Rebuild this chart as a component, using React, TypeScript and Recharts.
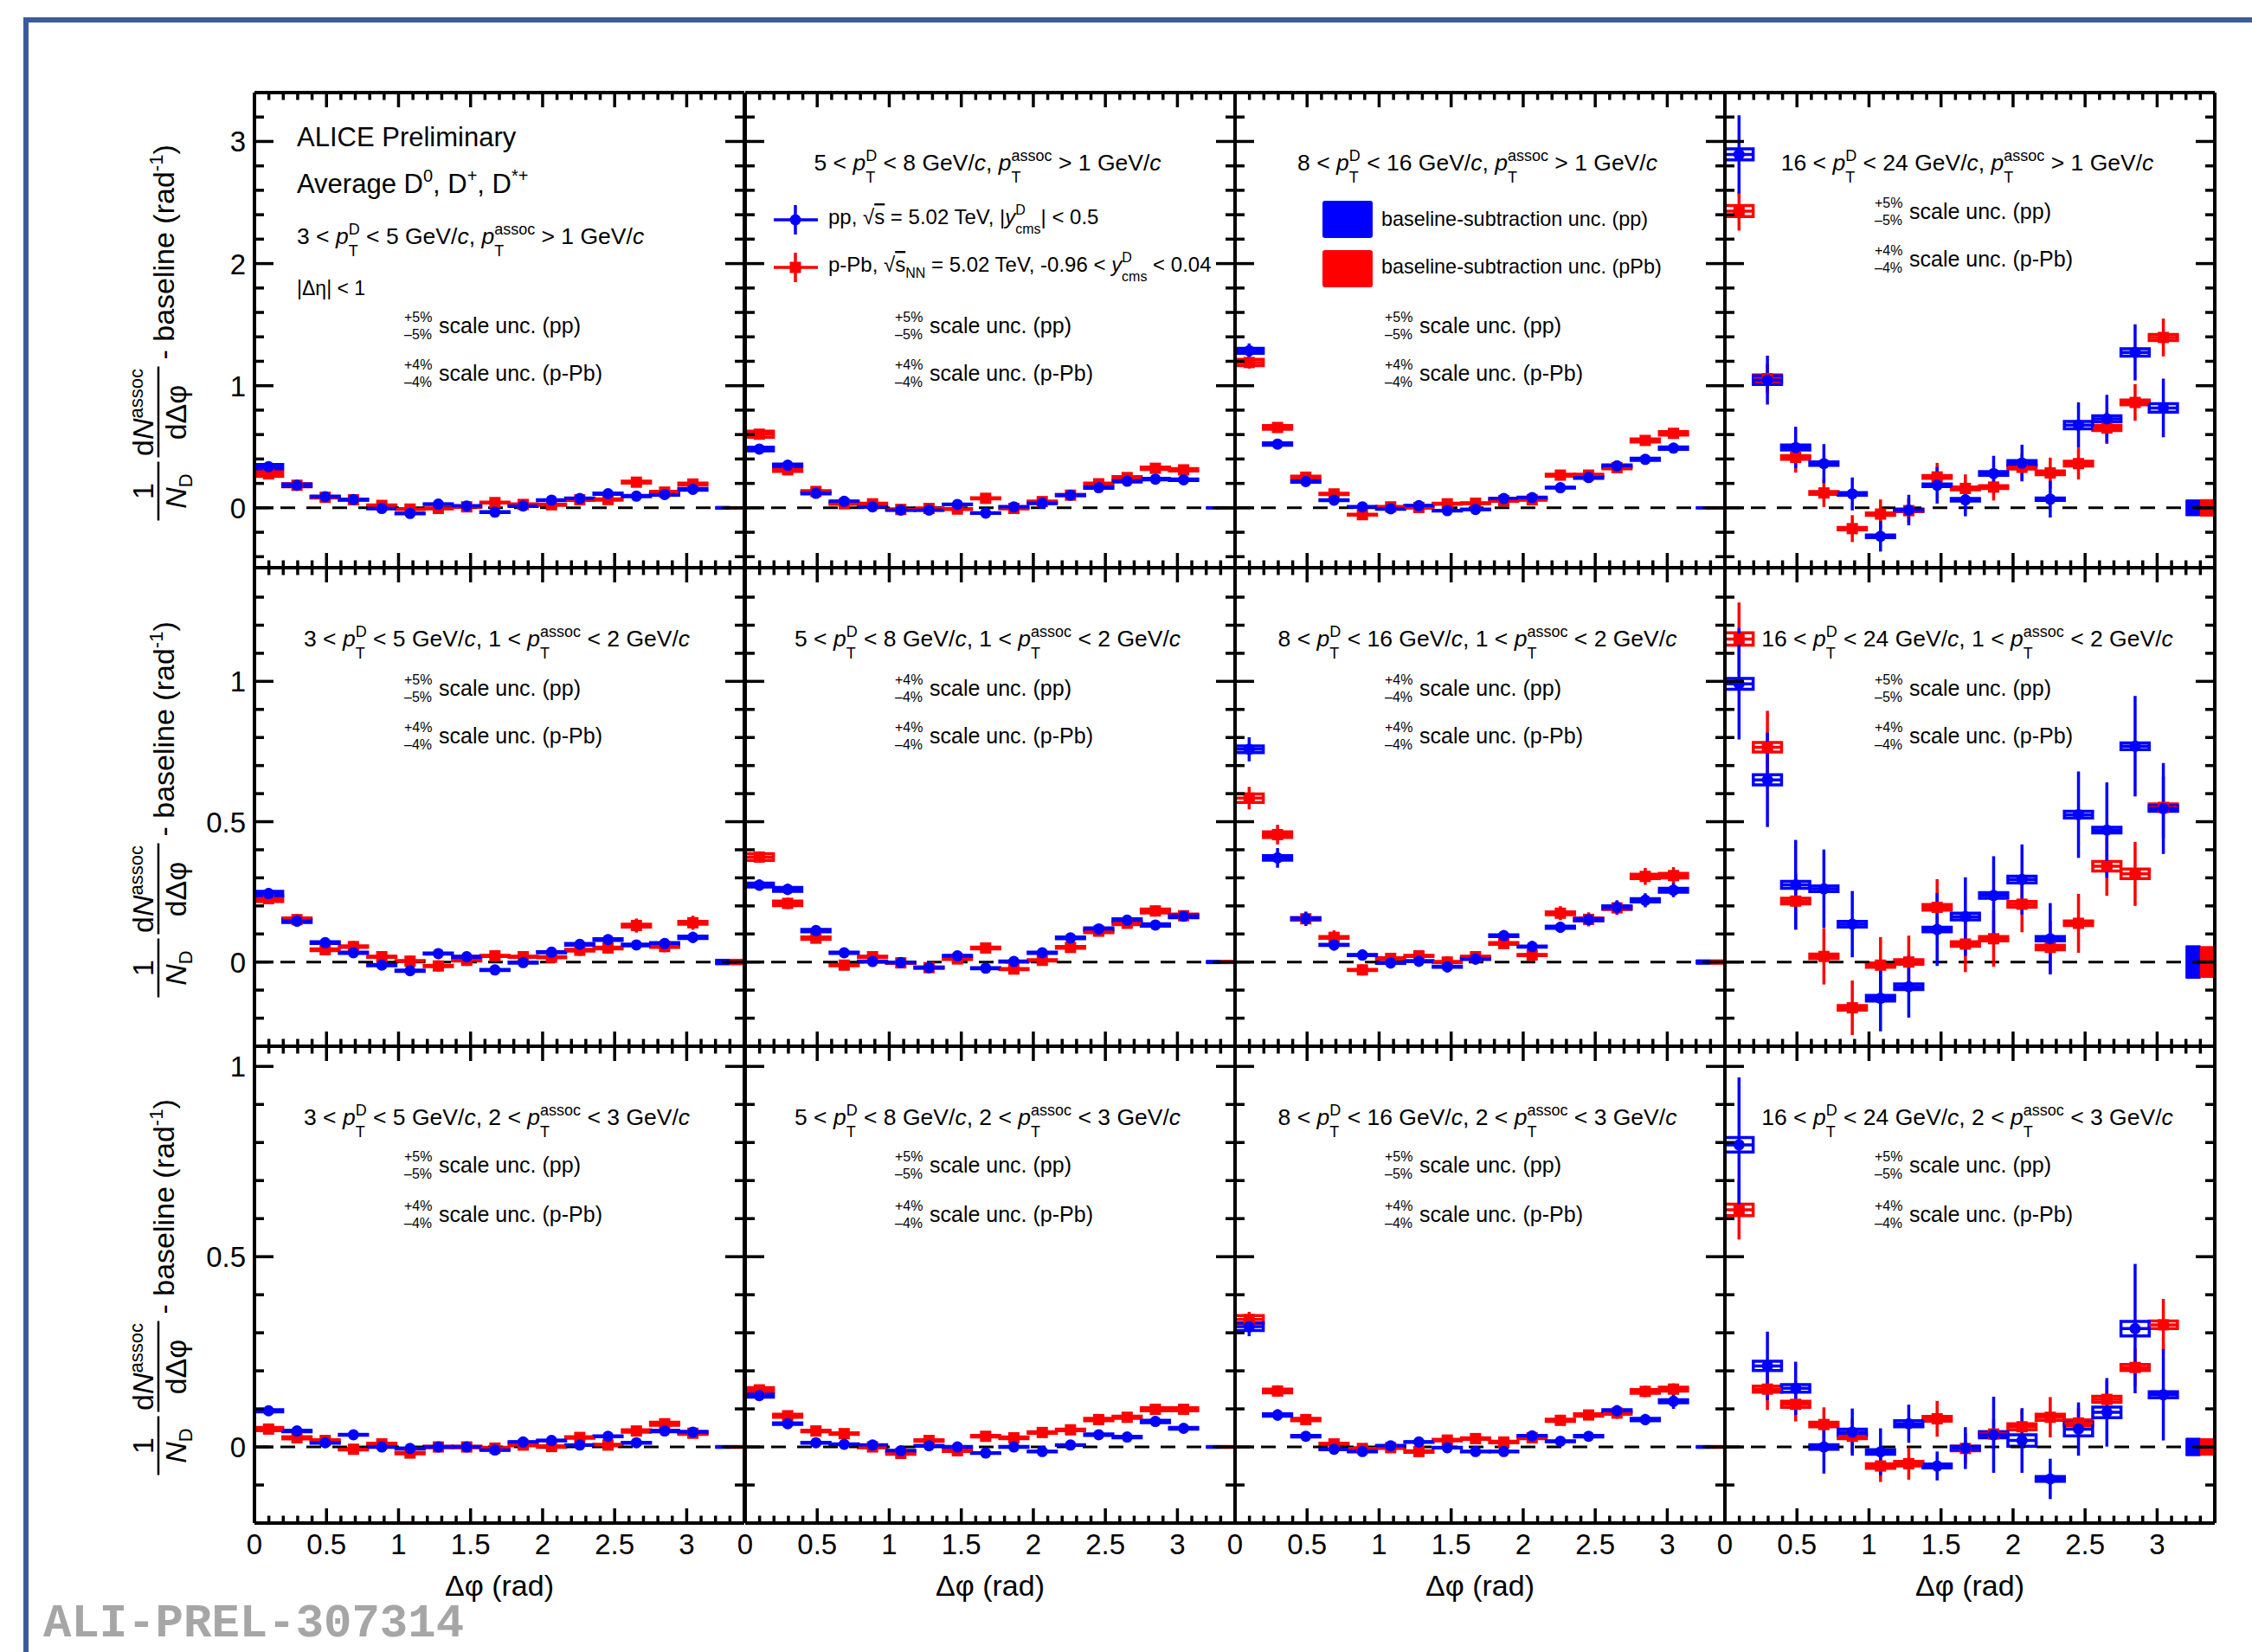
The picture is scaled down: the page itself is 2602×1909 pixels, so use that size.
import React from 'react';
import { ComposedChart, Scatter, XAxis, YAxis, ErrorBar, ReferenceLine, ReferenceArea } from 'recharts';

const FONT = '"Liberation Sans", Arial, Helvetica, sans-serif';
const BLUE = '#0000ff';
const RED = '#ff0000';
const FRAME_BLUE = '#3a5c9e';

// ---------- bins ----------
const BIN_CENTERS = [0.098, 0.295, 0.491, 0.687, 0.884, 1.080, 1.276, 1.473, 1.669, 1.865, 2.062, 2.258, 2.454, 2.651, 2.847, 3.043];
const HALF_BIN = 0.098;
const BASE_X_PP = [3.2, 3.3];
const BASE_X_PB = [3.3, 3.4];

// ---------- row 1 : pT assoc > 1 ----------
const PP_11 = [0.337, 0.185, 0.091, 0.068, -0.005, -0.046, 0.030, 0.015, -0.035, 0.015, 0.063, 0.076, 0.116, 0.096, 0.109, 0.152];
const PP_11_ST = [0.02, 0.015, 0.012, 0.012, 0.012, 0.012, 0.012, 0.012, 0.012, 0.012, 0.012, 0.012, 0.012, 0.012, 0.012, 0.015];
const PP_11_SY = [0.018, 0.01, 0.005, 0.004, 0.003, 0.003, 0.003, 0.003, 0.003, 0.003, 0.003, 0.004, 0.005, 0.005, 0.006, 0.007];
const PB_11 = [0.278, 0.185, 0.086, 0.066, 0.020, -0.010, -0.005, 0.008, 0.043, 0.028, 0.025, 0.066, 0.068, 0.210, 0.129, 0.195];
const PB_11_ST = [0.02, 0.015, 0.012, 0.012, 0.012, 0.012, 0.012, 0.012, 0.012, 0.012, 0.012, 0.012, 0.012, 0.015, 0.012, 0.015];
const PB_11_SY = [0.02, 0.012, 0.006, 0.005, 0.004, 0.004, 0.004, 0.004, 0.004, 0.004, 0.004, 0.005, 0.005, 0.008, 0.006, 0.008];

const PP_12 = [0.481, 0.349, 0.119, 0.053, 0.008, -0.018, -0.018, 0.028, -0.043, 0.008, 0.038, 0.104, 0.165, 0.218, 0.235, 0.230];
const PP_12_ST = [0.025, 0.02, 0.015, 0.012, 0.012, 0.012, 0.012, 0.012, 0.012, 0.012, 0.012, 0.012, 0.015, 0.015, 0.015, 0.015];
const PP_12_SY = [0.015, 0.01, 0.005, 0.003, 0.003, 0.003, 0.003, 0.003, 0.003, 0.003, 0.003, 0.004, 0.005, 0.006, 0.006, 0.006];
const PB_12 = [0.603, 0.311, 0.134, 0.033, 0.033, -0.013, -0.005, -0.010, 0.078, -0.005, 0.051, 0.104, 0.197, 0.248, 0.324, 0.311];
const PB_12_ST = [0.025, 0.02, 0.015, 0.015, 0.015, 0.015, 0.015, 0.015, 0.015, 0.015, 0.015, 0.015, 0.015, 0.015, 0.02, 0.02];
const PB_12_SY = [0.025, 0.012, 0.006, 0.004, 0.004, 0.004, 0.004, 0.004, 0.004, 0.004, 0.004, 0.005, 0.006, 0.008, 0.01, 0.01];

const PP_13 = [1.286, 0.522, 0.215, 0.063, 0.008, -0.008, 0.018, -0.023, -0.013, 0.076, 0.084, 0.165, 0.248, 0.344, 0.397, 0.489];
const PP_13_ST = [0.06, 0.03, 0.02, 0.015, 0.015, 0.015, 0.015, 0.015, 0.015, 0.015, 0.015, 0.015, 0.015, 0.02, 0.02, 0.025];
const PP_13_SY = [0.02, 0.01, 0.005, 0.003, 0.003, 0.003, 0.003, 0.003, 0.003, 0.003, 0.003, 0.004, 0.006, 0.008, 0.009, 0.01];
const PB_13 = [1.190, 0.658, 0.251, 0.114, -0.056, 0.008, 0.003, 0.033, 0.038, 0.058, 0.066, 0.268, 0.268, 0.329, 0.552, 0.610];
const PB_13_ST = [0.05, 0.03, 0.02, 0.02, 0.02, 0.015, 0.015, 0.015, 0.015, 0.015, 0.015, 0.02, 0.02, 0.02, 0.025, 0.025];
const PB_13_SY = [0.025, 0.015, 0.008, 0.005, 0.004, 0.004, 0.004, 0.004, 0.004, 0.004, 0.004, 0.008, 0.008, 0.01, 0.012, 0.014];

const PP_14 = [2.894, 1.046, 0.494, 0.362, 0.114, -0.233, -0.018, 0.185, 0.066, 0.281, 0.367, 0.071, 0.678, 0.729, 1.273, 0.818];
const PP_14_ST = [0.32, 0.2, 0.17, 0.16, 0.135, 0.125, 0.125, 0.15, 0.135, 0.145, 0.15, 0.15, 0.186, 0.196, 0.23, 0.24];
const PP_14_SY = [0.045, 0.035, 0.02, 0.015, 0.01, 0.01, 0.008, 0.01, 0.01, 0.015, 0.02, 0.01, 0.03, 0.025, 0.03, 0.034];
const PB_14 = [2.43, 1.058, 0.413, 0.122, -0.17, -0.051, -0.023, 0.253, 0.159, 0.17, 0.332, 0.286, 0.362, 0.653, 0.863, 1.395];
const PB_14_ST = [0.16, 0.12, 0.125, 0.115, 0.11, 0.12, 0.1, 0.115, 0.115, 0.11, 0.11, 0.125, 0.13, 0.13, 0.15, 0.155];
const PB_14_SY = [0.045, 0.03, 0.015, 0.012, 0.01, 0.01, 0.008, 0.012, 0.012, 0.012, 0.015, 0.015, 0.02, 0.02, 0.02, 0.025];

// ---------- row 2 : 1 < pT assoc < 2 ----------
const PP_21 = [0.244, 0.146, 0.069, 0.033, -0.011, -0.031, 0.030, 0.019, -0.028, -0.002, 0.035, 0.063, 0.080, 0.061, 0.066, 0.088];
const PP_21_ST = [0.02, 0.02, 0.018, 0.015, 0.015, 0.015, 0.015, 0.015, 0.015, 0.015, 0.015, 0.015, 0.015, 0.015, 0.018, 0.02];
const PP_21_SY = [0.008, 0.005, 0.003, 0.002, 0.002, 0.002, 0.002, 0.002, 0.002, 0.002, 0.002, 0.003, 0.003, 0.003, 0.003, 0.004];
const PB_21 = [0.226, 0.151, 0.044, 0.055, 0.019, 0.003, -0.014, 0.006, 0.022, 0.019, 0.017, 0.042, 0.050, 0.130, 0.055, 0.140];
const PB_21_ST = [0.02, 0.02, 0.02, 0.02, 0.02, 0.02, 0.02, 0.02, 0.02, 0.02, 0.02, 0.02, 0.02, 0.025, 0.02, 0.025];
const PB_21_SY = [0.01, 0.006, 0.003, 0.003, 0.002, 0.002, 0.002, 0.002, 0.002, 0.002, 0.002, 0.003, 0.003, 0.005, 0.003, 0.005];

const PP_22 = [0.274, 0.259, 0.112, 0.033, 0.002, -0.002, -0.020, 0.022, -0.022, 0.002, 0.033, 0.086, 0.118, 0.149, 0.132, 0.163];
const PP_22_ST = [0.02, 0.02, 0.015, 0.012, 0.012, 0.012, 0.012, 0.012, 0.012, 0.012, 0.012, 0.012, 0.015, 0.015, 0.015, 0.015];
const PP_22_SY = [0.007, 0.007, 0.004, 0.002, 0.002, 0.002, 0.002, 0.002, 0.002, 0.002, 0.002, 0.003, 0.004, 0.005, 0.004, 0.005];
const PB_22 = [0.374, 0.209, 0.085, -0.011, 0.019, -0.003, -0.020, 0.011, 0.050, -0.025, 0.006, 0.052, 0.110, 0.138, 0.182, 0.165];
const PB_22_ST = [0.02, 0.02, 0.015, 0.015, 0.015, 0.015, 0.015, 0.015, 0.02, 0.015, 0.015, 0.015, 0.015, 0.015, 0.02, 0.015];
const PB_22_SY = [0.012, 0.008, 0.004, 0.002, 0.002, 0.002, 0.002, 0.002, 0.003, 0.002, 0.002, 0.003, 0.005, 0.005, 0.007, 0.006];

const PP_23 = [0.758, 0.371, 0.154, 0.061, 0.025, -0.003, 0.003, -0.017, 0.011, 0.094, 0.055, 0.124, 0.151, 0.195, 0.220, 0.256];
const PP_23_ST = [0.043, 0.035, 0.025, 0.02, 0.02, 0.02, 0.02, 0.02, 0.02, 0.02, 0.02, 0.02, 0.02, 0.025, 0.025, 0.025];
const PP_23_SY = [0.012, 0.008, 0.004, 0.002, 0.002, 0.002, 0.002, 0.002, 0.002, 0.003, 0.002, 0.004, 0.004, 0.005, 0.006, 0.007];
const PB_23 = [0.584, 0.454, 0.154, 0.088, -0.028, 0.013, 0.022, 0.000, 0.019, 0.066, 0.025, 0.174, 0.152, 0.193, 0.305, 0.308];
const PB_23_ST = [0.04, 0.035, 0.025, 0.025, 0.02, 0.02, 0.02, 0.02, 0.02, 0.02, 0.02, 0.025, 0.025, 0.025, 0.03, 0.03];
const PB_23_SY = [0.015, 0.01, 0.004, 0.003, 0.002, 0.002, 0.002, 0.002, 0.002, 0.003, 0.002, 0.005, 0.005, 0.006, 0.008, 0.008];

const PP_24 = [0.991, 0.649, 0.275, 0.261, 0.135, -0.129, -0.088, 0.116, 0.162, 0.237, 0.294, 0.083, 0.525, 0.470, 0.769, 0.547];
const PP_24_ST = [0.198, 0.168, 0.16, 0.14, 0.118, 0.118, 0.11, 0.13, 0.14, 0.14, 0.125, 0.127, 0.154, 0.17, 0.179, 0.162];
const PP_24_SY = [0.019, 0.018, 0.012, 0.01, 0.01, 0.01, 0.01, 0.008, 0.012, 0.01, 0.012, 0.008, 0.012, 0.01, 0.012, 0.01];
const PB_24 = [1.151, 0.765, 0.217, 0.020, -0.163, -0.011, 0.000, 0.195, 0.064, 0.083, 0.206, 0.052, 0.138, 0.341, 0.314, 0.551];
const PB_24_ST = [0.13, 0.13, 0.1, 0.1, 0.097, 0.1, 0.094, 0.1, 0.1, 0.1, 0.1, 0.094, 0.105, 0.105, 0.114, 0.11];
const PB_24_SY = [0.022, 0.017, 0.01, 0.008, 0.008, 0.008, 0.008, 0.01, 0.008, 0.008, 0.01, 0.008, 0.008, 0.017, 0.017, 0.012];

// ---------- row 3 : 2 < pT assoc < 3 ----------
const PP_31 = [0.095, 0.042, 0.011, 0.032, 0.000, -0.004, 0.000, 0.000, -0.008, 0.013, 0.017, 0.005, 0.028, 0.011, 0.042, 0.039];
const PP_31_ST = [0.01, 0.01, 0.008, 0.008, 0.008, 0.008, 0.008, 0.008, 0.008, 0.008, 0.008, 0.008, 0.008, 0.008, 0.01, 0.01];
const PP_31_SY = [0.003, 0.002, 0.001, 0.001, 0.001, 0.001, 0.001, 0.001, 0.001, 0.001, 0.001, 0.001, 0.001, 0.001, 0.002, 0.002];
const PB_31 = [0.047, 0.024, 0.017, -0.006, 0.008, -0.016, 0.000, 0.000, -0.003, 0.005, 0.001, 0.025, 0.005, 0.042, 0.061, 0.036];
const PB_31_ST = [0.01, 0.01, 0.01, 0.01, 0.01, 0.01, 0.01, 0.01, 0.01, 0.01, 0.01, 0.01, 0.01, 0.01, 0.012, 0.01];
const PB_31_SY = [0.004, 0.003, 0.002, 0.002, 0.002, 0.002, 0.002, 0.002, 0.002, 0.002, 0.002, 0.002, 0.002, 0.003, 0.004, 0.003];

const PP_32 = [0.135, 0.061, 0.011, 0.007, 0.005, -0.010, 0.003, 0.000, -0.016, 0.000, -0.012, 0.005, 0.032, 0.026, 0.067, 0.049];
const PP_32_ST = [0.012, 0.01, 0.008, 0.008, 0.008, 0.008, 0.008, 0.008, 0.008, 0.008, 0.008, 0.008, 0.01, 0.01, 0.01, 0.01];
const PP_32_SY = [0.004, 0.002, 0.001, 0.001, 0.001, 0.001, 0.001, 0.001, 0.001, 0.001, 0.001, 0.001, 0.002, 0.002, 0.003, 0.002];
const PB_32 = [0.150, 0.082, 0.042, 0.035, 0.000, -0.017, 0.017, -0.010, 0.028, 0.024, 0.038, 0.045, 0.072, 0.078, 0.099, 0.099];
const PB_32_ST = [0.012, 0.01, 0.01, 0.01, 0.01, 0.01, 0.01, 0.01, 0.01, 0.01, 0.01, 0.01, 0.01, 0.01, 0.01, 0.01];
const PB_32_SY = [0.006, 0.004, 0.002, 0.002, 0.002, 0.002, 0.002, 0.002, 0.002, 0.002, 0.002, 0.002, 0.003, 0.003, 0.004, 0.004];

const PP_33 = [0.316, 0.084, 0.028, -0.006, -0.012, 0.003, 0.013, -0.002, -0.012, -0.012, 0.029, 0.015, 0.028, 0.095, 0.072, 0.120];
const PP_33_ST = [0.025, 0.015, 0.012, 0.01, 0.01, 0.01, 0.01, 0.01, 0.01, 0.01, 0.01, 0.01, 0.012, 0.015, 0.015, 0.02];
const PP_33_SY = [0.01, 0.003, 0.002, 0.001, 0.001, 0.001, 0.001, 0.001, 0.001, 0.001, 0.001, 0.001, 0.002, 0.003, 0.003, 0.004];
const PB_33 = [0.335, 0.147, 0.072, 0.008, -0.004, -0.002, -0.012, 0.018, 0.022, 0.013, 0.024, 0.070, 0.084, 0.089, 0.146, 0.152];
const PB_33_ST = [0.02, 0.015, 0.012, 0.01, 0.01, 0.01, 0.01, 0.01, 0.01, 0.01, 0.01, 0.012, 0.012, 0.015, 0.015, 0.015];
const PB_33_SY = [0.01, 0.005, 0.003, 0.002, 0.002, 0.002, 0.002, 0.002, 0.002, 0.002, 0.002, 0.003, 0.003, 0.003, 0.005, 0.005];

const PP_34 = [0.794, 0.213, 0.154, 0.000, 0.039, -0.013, 0.061, -0.050, -0.003, 0.032, 0.017, -0.084, 0.047, 0.091, 0.311, 0.137];
const PP_34_ST = [0.177, 0.09, 0.07, 0.07, 0.062, 0.062, 0.05, 0.038, 0.055, 0.1, 0.085, 0.053, 0.07, 0.09, 0.17, 0.12];
const PP_34_SY = [0.019, 0.012, 0.01, 0.006, 0.008, 0.006, 0.008, 0.005, 0.005, 0.008, 0.015, 0.006, 0.018, 0.014, 0.019, 0.008];
const PB_34 = [0.623, 0.152, 0.112, 0.059, 0.028, -0.050, -0.044, 0.074, -0.004, 0.034, 0.053, 0.078, 0.063, 0.125, 0.209, 0.321];
const PB_34_ST = [0.078, 0.055, 0.045, 0.045, 0.045, 0.042, 0.042, 0.047, 0.04, 0.04, 0.045, 0.053, 0.04, 0.05, 0.05, 0.068];
const PB_34_SY = [0.015, 0.008, 0.008, 0.006, 0.006, 0.006, 0.006, 0.006, 0.006, 0.006, 0.008, 0.008, 0.008, 0.008, 0.008, 0.01];

// baseline-subtraction uncertainty (half height), per row per column
const BASE_PP = [[0.012, 0.01, 0.01, 0.065], [0.01, 0.006, 0.008, 0.058], [0.004, 0.004, 0.004, 0.023]];
const BASE_PB = [[0.01, 0.01, 0.01, 0.068], [0.01, 0.006, 0.008, 0.055], [0.004, 0.004, 0.004, 0.022]];

// scale uncertainties (%)
const PP_PCT = [[5, 5, 5, 5], [5, 4, 4, 5], [5, 5, 5, 5]];
const PB_PCT = [[4, 4, 4, 4], [4, 4, 4, 4], [4, 4, 4, 4]];

// titles
const D_LO = ['3', '5', '8', '16'];
const D_HI = ['5', '8', '16', '24'];
const ASSOC_LO = ['', '1', '2'];
const ASSOC_HI = ['1', '2', '3'];

// ---------- axes ----------
const X_DOMAIN = [0, 3.4];
const X_TICKS = [0, 0.1, 0.2, 0.3, 0.4, 0.5, 0.6, 0.7, 0.8, 0.9, 1, 1.1, 1.2, 1.3, 1.4, 1.5, 1.6, 1.7, 1.8, 1.9, 2, 2.1, 2.2, 2.3, 2.4, 2.5, 2.6, 2.7, 2.8, 2.9, 3, 3.1, 3.2, 3.3];
const X_MAJOR = [0, 0.5, 1, 1.5, 2, 2.5, 3];
const X_LABELS = ['0', '0.5', '1', '1.5', '2', '2.5', '3'];

const Y_DOMAINS = [[-0.49, 3.4], [-0.3, 1.405], [-0.2, 1.053]];
const Y_TICKS = [
  [-0.4, -0.2, 0, 0.2, 0.4, 0.6, 0.8, 1, 1.2, 1.4, 1.6, 1.8, 2, 2.2, 2.4, 2.6, 2.8, 3, 3.2],
  [-0.2, -0.1, 0, 0.1, 0.2, 0.3, 0.4, 0.5, 0.6, 0.7, 0.8, 0.9, 1, 1.1, 1.2, 1.3],
  [-0.1, 0, 0.1, 0.2, 0.3, 0.4, 0.5, 0.6, 0.7, 0.8, 0.9, 1],
];
const Y_MAJOR = [[0, 1, 2, 3], [0, 0.5, 1], [0, 0.5, 1]];
const Y_LABELS = [['0', '1', '2', '3'], ['0', '0.5', '1'], ['0', '0.5', '1']];

// ---------- layout ----------
const COL_LEFT = [294, 861, 1427, 1993];
const COL_W = 566;
const ROW_TOP = [107, 656, 1209];
const ROW_H = [549, 553, 551];

type PanelDef = { pp: number[]; ppSt: number[]; ppSy: number[]; pb: number[]; pbSt: number[]; pbSy: number[] };
const PANELS: PanelDef[][] = [
  [
    { pp: PP_11, ppSt: PP_11_ST, ppSy: PP_11_SY, pb: PB_11, pbSt: PB_11_ST, pbSy: PB_11_SY },
    { pp: PP_12, ppSt: PP_12_ST, ppSy: PP_12_SY, pb: PB_12, pbSt: PB_12_ST, pbSy: PB_12_SY },
    { pp: PP_13, ppSt: PP_13_ST, ppSy: PP_13_SY, pb: PB_13, pbSt: PB_13_ST, pbSy: PB_13_SY },
    { pp: PP_14, ppSt: PP_14_ST, ppSy: PP_14_SY, pb: PB_14, pbSt: PB_14_ST, pbSy: PB_14_SY },
  ],
  [
    { pp: PP_21, ppSt: PP_21_ST, ppSy: PP_21_SY, pb: PB_21, pbSt: PB_21_ST, pbSy: PB_21_SY },
    { pp: PP_22, ppSt: PP_22_ST, ppSy: PP_22_SY, pb: PB_22, pbSt: PB_22_ST, pbSy: PB_22_SY },
    { pp: PP_23, ppSt: PP_23_ST, ppSy: PP_23_SY, pb: PB_23, pbSt: PB_23_ST, pbSy: PB_23_SY },
    { pp: PP_24, ppSt: PP_24_ST, ppSy: PP_24_SY, pb: PB_24, pbSt: PB_24_ST, pbSy: PB_24_SY },
  ],
  [
    { pp: PP_31, ppSt: PP_31_ST, ppSy: PP_31_SY, pb: PB_31, pbSt: PB_31_ST, pbSy: PB_31_SY },
    { pp: PP_32, ppSt: PP_32_ST, ppSy: PP_32_SY, pb: PB_32, pbSt: PB_32_ST, pbSy: PB_32_SY },
    { pp: PP_33, ppSt: PP_33_ST, ppSy: PP_33_SY, pb: PB_33, pbSt: PB_33_ST, pbSy: PB_33_SY },
    { pp: PP_34, ppSt: PP_34_ST, ppSy: PP_34_SY, pb: PB_34, pbSt: PB_34_ST, pbSy: PB_34_SY },
  ],
];

const TICK_W = 3.5;
const LINE_W = 3.5;

const findIdx = (arr: number[], v: number) => arr.findIndex((m) => Math.abs(m - v) < 1e-6);

function makeXTick(side: 'top' | 'bottom', showLabels: boolean) {
  return (p: any) => {
    const v = p.payload.value;
    const idx = findIdx(X_MAJOR, v);
    const major = idx >= 0;
    const len = major ? 17 : 8.5;
    const sgn = side === 'bottom' ? -1 : 1;
    return (
      <g>
        <line x1={p.x} y1={p.y} x2={p.x} y2={p.y + sgn * len} stroke="#000" strokeWidth={TICK_W} />
        {showLabels && major ? (
          <text x={p.x} y={p.y + 36} textAnchor="middle" fontSize={33} fontFamily={FONT} fill="#000">
            {X_LABELS[idx]}
          </text>
        ) : null}
      </g>
    );
  };
}

function makeYTick(side: 'left' | 'right', showLabels: boolean, row: number) {
  return (p: any) => {
    const v = p.payload.value;
    const idx = findIdx(Y_MAJOR[row], v);
    const major = idx >= 0;
    const len = major ? 22 : 11;
    const sgn = side === 'left' ? 1 : -1;
    return (
      <g>
        <line x1={p.x} y1={p.y} x2={p.x + sgn * len} y2={p.y} stroke="#000" strokeWidth={TICK_W} />
        {showLabels && major ? (
          <text x={p.x - 10} y={p.y + 12} textAnchor="end" fontSize={33} fontFamily={FONT} fill="#000">
            {Y_LABELS[row][idx]}
          </text>
        ) : null}
      </g>
    );
  };
}

const circleShape = (p: any) => <circle cx={p.cx} cy={p.cy} r={6.5} fill={BLUE} />;
const squareShape = (p: any) => <rect x={p.cx - 6.5} y={p.cy - 6.5} width={13} height={13} fill={RED} />;

function Panel({ row, col }: { row: number; col: number }) {
  const def = PANELS[row][col];
  const ml = col === 0 ? 90 : 12;
  const mr = 12;
  const mt = 12;
  const mb = row === 2 ? 56 : 12;
  const W = COL_W;
  const H = ROW_H[row];
  const ppData = BIN_CENTERS.map((x, i) => ({ x, y: def.pp[i], xe: HALF_BIN, st: def.ppSt[i], sy: def.ppSy[i] }));
  const pbData = BIN_CENTERS.map((x, i) => ({ x, y: def.pb[i], xe: HALF_BIN, st: def.pbSt[i], sy: def.pbSy[i] }));
  const axisLine = { stroke: '#000', strokeWidth: 4 };
  return (
    <div style={{ position: 'absolute', left: COL_LEFT[col] - ml, top: ROW_TOP[row] - mt }}>
      <ComposedChart width={W + ml + mr} height={H + mt + mb} margin={{ top: mt, right: mr, bottom: mb, left: ml }}>
        <XAxis xAxisId="b" type="number" dataKey="x" domain={X_DOMAIN} allowDataOverflow orientation="bottom" mirror
          ticks={X_TICKS} interval={0} tickSize={0} tickMargin={0} tickLine={false} axisLine={axisLine}
          tick={makeXTick('bottom', row === 2)} />
        <XAxis xAxisId="t" type="number" dataKey="x" domain={X_DOMAIN} allowDataOverflow orientation="top" mirror
          ticks={X_TICKS} interval={0} tickSize={0} tickMargin={0} tickLine={false} axisLine={axisLine}
          tick={makeXTick('top', false)} />
        <YAxis yAxisId="l" type="number" dataKey="y" domain={Y_DOMAINS[row]} allowDataOverflow orientation="left" mirror
          ticks={Y_TICKS[row]} interval={0} tickSize={0} tickMargin={0} tickLine={false} axisLine={axisLine}
          tick={makeYTick('left', col === 0, row)} />
        <YAxis yAxisId="r" type="number" dataKey="y" domain={Y_DOMAINS[row]} allowDataOverflow orientation="right" mirror
          ticks={Y_TICKS[row]} interval={0} tickSize={0} tickMargin={0} tickLine={false} axisLine={axisLine}
          tick={makeYTick('right', false, row)} />

        <ReferenceLine xAxisId="b" yAxisId="l" y={0} stroke="#000" strokeWidth={3} strokeDasharray="17 13" ifOverflow="visible" />

        <ReferenceArea xAxisId="b" yAxisId="l" x1={BASE_X_PP[0]} x2={BASE_X_PP[1]} y1={-BASE_PP[row][col]} y2={BASE_PP[row][col]}
          fill={BLUE} fillOpacity={1} stroke={BLUE} strokeWidth={1} ifOverflow="visible" />
        <ReferenceArea xAxisId="b" yAxisId="l" x1={BASE_X_PB[0]} x2={BASE_X_PB[1]} y1={-BASE_PB[row][col]} y2={BASE_PB[row][col]}
          fill={RED} fillOpacity={1} stroke={RED} strokeWidth={1} ifOverflow="visible" />

        {pbData.map((d, i) => (
          <ReferenceArea key={`pbs${i}`} xAxisId="b" yAxisId="l" x1={d.x - HALF_BIN} x2={d.x + HALF_BIN} y1={d.y - d.sy} y2={d.y + d.sy}
            fill="none" fillOpacity={0} stroke={RED} strokeWidth={3.5} ifOverflow="visible" />
        ))}
        <Scatter xAxisId="b" yAxisId="l" data={pbData} dataKey="y" shape={squareShape} isAnimationActive={false}>
          <ErrorBar dataKey="xe" direction="x" width={0} stroke={RED} strokeWidth={LINE_W} />
          <ErrorBar dataKey="st" direction="y" width={0} stroke={RED} strokeWidth={LINE_W} />
        </Scatter>

        {ppData.map((d, i) => (
          <ReferenceArea key={`pps${i}`} xAxisId="b" yAxisId="l" x1={d.x - HALF_BIN} x2={d.x + HALF_BIN} y1={d.y - d.sy} y2={d.y + d.sy}
            fill="none" fillOpacity={0} stroke={BLUE} strokeWidth={3.5} ifOverflow="visible" />
        ))}
        <Scatter xAxisId="b" yAxisId="l" data={ppData} dataKey="y" shape={circleShape} isAnimationActive={false}>
          <ErrorBar dataKey="xe" direction="x" width={0} stroke={BLUE} strokeWidth={LINE_W} />
          <ErrorBar dataKey="st" direction="y" width={0} stroke={BLUE} strokeWidth={LINE_W} />
        </Scatter>
      </ComposedChart>
    </div>
  );
}

// ---------- text helpers ----------
const FS_T = 26.5;
const SS_T = 18;

function PtTitle({ x, y, anchor, row, col }: { x: number; y: number; anchor: 'start' | 'middle'; row: number; col: number }) {
  const wD = 0.722 * SS_T;
  const wT = 0.611 * SS_T;
  const wA = 2.612 * SS_T;
  const alo = ASSOC_LO[row];
  const ahi = ASSOC_HI[row];
  return (
    <text x={x} y={y} textAnchor={anchor} fontSize={FS_T} fontFamily={FONT} fill="#000" style={{ whiteSpace: 'pre' }}>
      <tspan>{`${D_LO[col]} < `}</tspan>
      <tspan fontStyle="italic">p</tspan>
      <tspan fontSize={SS_T} dy={-11}>D</tspan>
      <tspan fontSize={SS_T} dx={-wD} dy={25}>T</tspan>
      <tspan dx={wD - wT} dy={-14}>{` < ${D_HI[col]} GeV/`}</tspan>
      <tspan fontStyle="italic">c</tspan>
      <tspan>{alo ? `, ${alo} < ` : ', '}</tspan>
      <tspan fontStyle="italic">p</tspan>
      <tspan fontSize={SS_T} dy={-11}>assoc</tspan>
      <tspan fontSize={SS_T} dx={-wA} dy={25}>T</tspan>
      <tspan dx={wA - wT} dy={-14}>{alo ? ` < ${ahi} GeV/` : ` > ${ahi} GeV/`}</tspan>
      <tspan fontStyle="italic">c</tspan>
    </text>
  );
}

function ScaleUnc({ x, y, pct, label }: { x: number; y: number; pct: number; label: string }) {
  return (
    <g fontFamily={FONT} fill="#000">
      <text x={x} y={y - 13} fontSize={16}>{`+${pct}%`}</text>
      <text x={x} y={y + 7} fontSize={16}>{`–${pct}%`}</text>
      <text x={x + 40} y={y} fontSize={25} style={{ whiteSpace: 'pre' }}>{`scale unc. (${label})`}</text>
    </g>
  );
}

function YTitle({ cy }: { cy: number }) {
  const cx = 183;
  const fs = 34;
  const ss = 22;
  return (
    <g transform={`translate(${cx},${cy}) rotate(-90)`} fontFamily={FONT} fill="#000">
      <text x={-186} y={-6} fontSize={fs} textAnchor="middle">1</text>
      <line x1={-220} x2={-152} y1={0} y2={0} stroke="#000" strokeWidth={2.5} />
      <text x={-186} y={32} fontSize={fs} textAnchor="middle" style={{ whiteSpace: 'pre' }}>
        <tspan fontStyle="italic">N</tspan>
        <tspan fontSize={ss} dy={7}>D</tspan>
      </text>
      <text x={-95} y={-6} fontSize={fs} textAnchor="middle" style={{ whiteSpace: 'pre' }}>
        <tspan>d</tspan>
        <tspan fontStyle="italic">N</tspan>
        <tspan fontSize={ss} dy={-12}>assoc</tspan>
      </text>
      <line x1={-147} x2={-42} y1={0} y2={0} stroke="#000" strokeWidth={2.5} />
      <text x={-95} y={32} fontSize={fs} textAnchor="middle">dΔφ</text>
      <text x={-34} y={18} fontSize={fs} style={{ whiteSpace: 'pre' }}>
        <tspan>- baseline (rad</tspan>
        <tspan fontSize={ss} dy={-13}>-1</tspan>
        <tspan dy={13}>)</tspan>
      </text>
    </g>
  );
}

function Overlay() {
  const rows = [0, 1, 2];
  const cols = [0, 1, 2, 3];
  const scaleY = (row: number, col: number): [number, number] => {
    if (row === 0) return col === 3 ? [253, 308] : [385, 440];
    if (row === 1) return [804, 859];
    return [1355, 1412];
  };
  const titleY = [197, 747, 1300];
  return (
    <svg width={2602} height={1909} style={{ position: 'absolute', left: 0, top: 0, pointerEvents: 'none' }}>
      {/* frame */}
      <line x1={30} y1={20} x2={30} y2={1909} stroke={FRAME_BLUE} strokeWidth={6} />
      <line x1={27} y1={23} x2={2602} y2={23} stroke={FRAME_BLUE} strokeWidth={6} />

      {/* ALICE block */}
      <text x={343} y={169} fontSize={31} fontFamily={FONT}>ALICE Preliminary</text>
      <text x={343} y={223} fontSize={31} fontFamily={FONT} style={{ whiteSpace: 'pre' }}>
        <tspan>Average D</tspan>
        <tspan fontSize={20} dy={-13}>0</tspan>
        <tspan dy={13}>, D</tspan>
        <tspan fontSize={20} dy={-13}>+</tspan>
        <tspan dy={13}>, D</tspan>
        <tspan fontSize={20} dy={-13}>*+</tspan>
      </text>
      <PtTitle x={343} y={282} anchor="start" row={0} col={0} />
      <text x={343} y={341} fontSize={23} fontFamily={FONT}>|Δη| &lt; 1</text>

      {/* titles */}
      {rows.map((r) =>
        cols.map((c) =>
          r === 0 && c === 0 ? null : (
            <PtTitle key={`t${r}${c}`} x={COL_LEFT[c] + COL_W / 2 - 3} y={titleY[r]} anchor="middle" row={r} col={c} />
          )
        )
      )}

      {/* scale uncertainties */}
      {rows.map((r) =>
        cols.map((c) => {
          const [y1, y2] = scaleY(r, c);
          return (
            <g key={`s${r}${c}`}>
              <ScaleUnc x={COL_LEFT[c] + 173} y={y1} pct={PP_PCT[r][c]} label="pp" />
              <ScaleUnc x={COL_LEFT[c] + 173} y={y2} pct={PB_PCT[r][c]} label="p-Pb" />
            </g>
          );
        })
      )}

      {/* legend pp / p-Pb */}
      <g>
        <line x1={894} x2={945} y1={254} y2={254} stroke={BLUE} strokeWidth={LINE_W} />
        <line x1={919} x2={919} y1={237} y2={271} stroke={BLUE} strokeWidth={LINE_W} />
        <circle cx={919} cy={254} r={6.5} fill={BLUE} />
        <line x1={894} x2={945} y1={309} y2={309} stroke={RED} strokeWidth={LINE_W} />
        <line x1={919} x2={919} y1={292} y2={326} stroke={RED} strokeWidth={LINE_W} />
        <rect x={912.5} y={302.5} width={13} height={13} fill={RED} />
        <text x={957} y={259} fontSize={24} fontFamily={FONT} style={{ whiteSpace: 'pre' }}>
          <tspan>{'pp, √'}</tspan>
          <tspan style={{ textDecoration: 'overline' }}>s</tspan>
          <tspan>{' = 5.02 TeV, |'}</tspan>
          <tspan fontStyle="italic">y</tspan>
          <tspan fontSize={16} dy={-11}>D</tspan>
          <tspan fontSize={16} dx={-11.6} dy={22}>cms</tspan>
          <tspan dy={-11}>{'| < 0.5'}</tspan>
        </text>
        <text x={957} y={314} fontSize={24} fontFamily={FONT} style={{ whiteSpace: 'pre' }}>
          <tspan>{'p-Pb, √'}</tspan>
          <tspan style={{ textDecoration: 'overline' }}>s</tspan>
          <tspan fontSize={16} dy={7}>NN</tspan>
          <tspan dy={-7}>{' = 5.02 TeV, -0.96 < '}</tspan>
          <tspan fontStyle="italic">y</tspan>
          <tspan fontSize={16} dy={-11}>D</tspan>
          <tspan fontSize={16} dx={-11.6} dy={22}>cms</tspan>
          <tspan dy={-11}>{' < 0.04'}</tspan>
        </text>
      </g>

      {/* legend baseline-subtraction */}
      <g>
        <rect x={1528} y={232} width={58} height={43} rx={3} fill={BLUE} />
        <rect x={1528} y={289} width={58} height={43} rx={3} fill={RED} />
        <text x={1596} y={261} fontSize={23.4} fontFamily={FONT}>baseline-subtraction unc. (pp)</text>
        <text x={1596} y={316} fontSize={23.4} fontFamily={FONT}>baseline-subtraction unc. (pPb)</text>
      </g>

      {/* axis titles */}
      {rows.map((r) => (
        <YTitle key={`yt${r}`} cy={ROW_TOP[r] + ROW_H[r] / 2} />
      ))}
      {cols.map((c) => (
        <text key={`xt${c}`} x={COL_LEFT[c] + COL_W / 2} y={1844} fontSize={34} fontFamily={FONT} textAnchor="middle">
          Δφ (rad)
        </text>
      ))}

      {/* label */}
      <text x={50} y={1891} fontSize={54} fontFamily='"Liberation Mono", "DejaVu Sans Mono", monospace' fontWeight="bold" fill="#a6a6a6">
        ALI-PREL-307314
      </text>
    </svg>
  );
}

export default function App() {
  const rows = [0, 1, 2];
  const cols = [0, 1, 2, 3];
  return (
    <div style={{ position: 'absolute', left: 0, top: 0, width: 2602, height: 1909, background: '#fff', overflow: 'hidden' }}>
      {rows.map((r) => cols.map((c) => <Panel key={`p${r}${c}`} row={r} col={c} />))}
      <Overlay />
    </div>
  );
}
